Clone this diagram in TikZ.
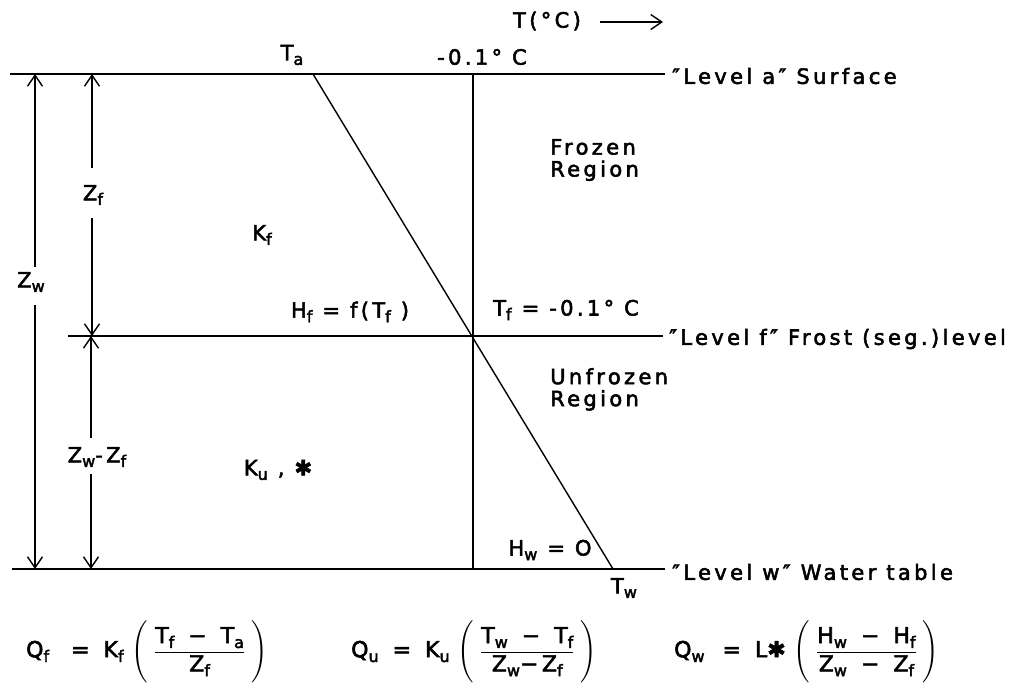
\documentclass[tikz,border=0pt]{standalone}
\usepackage{amsmath}
\usepackage{fontspec}
\setmainfont{DejaVu Sans}[LetterSpace=16,FakeBold=2.5]
\newfontfamily\symf{DejaVu Sans}[FakeBold=2.5]
\usetikzlibrary{arrows.meta}
\newcommand{\sbs}[1]{\raisebox{-0.4ex}{\fontsize{16}{16}\selectfont #1}}
\newcommand{\starsym}{{\symf ✱}}
\newcommand{\qq}{″}
\newcommand{\mn}{\hspace{14pt}−\hspace{14pt}}
\tikzset{
  lbl/.style={font=\fontsize{21}{25}\selectfont, inner sep=1pt},
  eqn/.style={font=\fontsize{22}{26}\selectfont, inner sep=1pt, anchor=west},
  ln/.style={line width=1.7pt},
  sl/.style={line width=1.4pt},
  dim/.style={line width=1.4pt, -{Straight Barb[length=11pt,width=15pt,line width=1.4pt]}},
}
\newcommand{\bigfrac}[2]{\Biggl(\hspace{6pt}\dfrac{\text{#1}}{\text{#2}}\hspace{6pt}\Biggr)}
\begin{document}
\begin{tikzpicture}[x=1pt,y=-1pt]
\useasboundingbox (0,0) rectangle (1021,694);
% level lines
\coordinate (SA) at (10,74);   \coordinate (SB) at (665,74);
\coordinate (FA) at (68,336);  \coordinate (FB) at (663,336);
\coordinate (WA) at (12,569);  \coordinate (WB) at (665,569);
\coordinate (VT) at (473,74);  \coordinate (VB) at (473,569);
\coordinate (PA) at (313,74);  \coordinate (PW) at (613,569);
\draw[ln] (SA) -- (SB);
\draw[ln] (FA) -- (FB);
\draw[ln] (WA) -- (WB);
\draw[sl] (VT) -- (VB);
\draw[sl] (PA) -- (PW);

% axis label
\node[lbl] (taxis) at (547,21) {T(°C)};
\coordinate (tstart) at (600,22);
\coordinate (tend) at (663,22);
\draw[dim] (tstart) -- (tend);

% top labels
\node[lbl] (Ta) at (292,55) {T\sbs{a}};
\node[lbl] (m01) at (482,57) {-0.1° C};
\node[lbl, anchor=west] (lva) at (671,76) {\qq Level a\qq\ Surface};
\node[lbl, anchor=west] (lvf) at (668,339) {\qq Level f\qq\ Frost (seg.)level};
\node[lbl, anchor=west] (lvw) at (671,572) {\qq Level w\qq\ Water table};

% region labels
\node[lbl, align=left, anchor=north west] (froz) at (549,138) {Frozen\\[-3pt]Region};
\node[lbl, align=left, anchor=north west] (unfr) at (549,367) {Unfrozen\\[-3pt]Region};
\node[lbl] (Kf) at (262,235) {K\sbs{f}};
\node[lbl] (Ku) at (278,470) {K\sbs{u} , \starsym};
\node[lbl] (Hf) at (350,312) {H\sbs{f} = f(T\sbs{f} )};
\node[lbl] (Tf) at (566,310) {T\sbs{f} = -0.1° C};
\node[lbl] (Hw) at (550,550) {H\sbs{w} = O};
\node[lbl] (Tw) at (624,588) {T\sbs{w}};

% dimension arrows
\node[lbl] (Zw) at (31,282) {Z\sbs{w}};
\coordinate (zwT) at (35,74); \coordinate (zwB) at (35,569);
\draw[dim] (Zw.north -| zwT) ++(0,-4) -- (zwT);
\draw[dim] (Zw.south -| zwB) ++(0,12) -- (zwB);

\node[lbl] (Zf) at (93,195) {Z\sbs{f}};
\coordinate (zfT) at (92,74); \coordinate (zfB) at (92,336);
\draw[dim] (Zf.north -| zfT) ++(0,-16) -- (zfT);
\draw[dim] (Zf.south -| zfB) ++(0,12) -- (zfB);

\node[lbl] (Zwf) at (97,457) {Z\sbs{w}-Z\sbs{f}};
\coordinate (zuT) at (91,336); \coordinate (zuB) at (91,569);
\draw[dim] (Zwf.north -| zuT) ++(0,-8) -- (zuT);
\draw[dim] (Zwf.south -| zuB) ++(0,6) -- (zuB);

% equations
\node[eqn] (Qf) at (25,652) {Q\sbs{f}\hspace{22pt}=\hspace{14pt}K\sbs{f}\hspace{8pt}$\bigfrac{T\sbs{f}\mn T\sbs{a}}{Z\sbs{f}}$};
\node[eqn] (Qu) at (350,652) {Q\sbs{u}\hspace{14pt}=\hspace{14pt}K\sbs{u}\hspace{8pt}$\bigfrac{T\sbs{w}\mn T\sbs{f}}{Z\sbs{w}−Z\sbs{f}}$};
\node[eqn] (Qw) at (673,652) {Q\sbs{w}\hspace{18pt}=\hspace{14pt}L\starsym\hspace{8pt}$\bigfrac{H\sbs{w}\mn H\sbs{f}}{Z\sbs{w}\mn Z\sbs{f}}$};
\end{tikzpicture}
\end{document}
